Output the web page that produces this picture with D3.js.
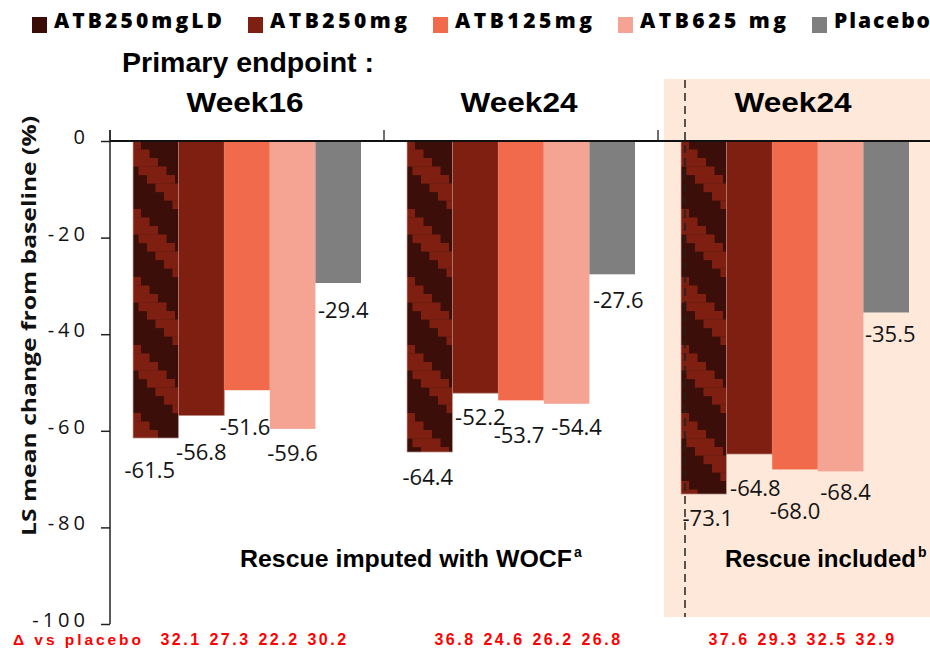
<!DOCTYPE html>
<html>
<head>
<meta charset="utf-8">
<script src="https://cdn.jsdelivr.net/npm/d3@7"></script>
<style>
  html, body { margin: 0; padding: 0; background: #ffffff; }
  svg { display: block; }
</style>
</head>
<body>
<script>
// ---------------- DATA ----------------
const groups = ["Week16", "Week24", "Week24"];
const series = ["ATB250mgLD", "ATB250mg", "ATB125mg", "ATB625 mg", "Placebo"];
const week16Values = [-61.5, -56.8, -51.6, -59.6, -29.4];
const week24Values = [-64.4, -52.2, -53.7, -54.4, -27.6];
const week24RescueValues = [-73.1, -64.8, -68.0, -68.4, -35.5];
const deltaWeek16 = [32.1, 27.3, 22.2, 30.2];
const deltaWeek24 = [36.8, 24.6, 26.2, 26.8];
const deltaWeek24Rescue = [37.6, 29.3, 32.5, 32.9];
const yTicks = [0, -20, -40, -60, -80, -100];
const yTickLabels = ["0", "-20", "-40", "-60", "-80", "-100"];
const deltaRowLabel = "\u0394 vs placebo";
const headerTitle = "Primary endpoint :";
const yAxisTitle = "LS mean change from baseline (%)";
const footnoteLeft = "Rescue imputed with WOCF";
const footnoteLeftSup = "a";
const footnoteRight = "Rescue included";
const footnoteRightSup = "b";

// ---------------- LAYOUT / STYLE ----------------
const W = 930, H = 649;
const colors = ["#3c0e09", "#7e1f11", "#f26a4c", "#f5a393", "#7f7f7f"];
const stripeColor = "#7e1f11";
const legendTextWidths = [168, 137, 137, 146, 96];
// label nudges (dx from bar centre, dy from bar end to label centre)
const labelDx = [[-6, 0, -2, 0, 5], [-2, 5, -2, 10, 6], [4, 6, 0, 5, 4]];
const labelDy = [[32, 37, 37, 24, 27], [25, 24, 35, 23, 26], [24, 34, 42, 21, 22]];

const allValues = [week16Values, week24Values, week24RescueValues];
const allDeltas = [deltaWeek16, deltaWeek24, deltaWeek24Rescue];

const svg = d3.select("body").append("svg").attr("width", W).attr("height", H);

const y = d3.scaleLinear().domain([0, -100]).range([141, 624]);
const xGroup = d3.scaleBand().domain(d3.range(groups.length)).range([110, 932]);
const xBar = d3.scaleBand().domain(series).range([23, 251]);
const xDelta = d3.scalePoint().domain(d3.range(4)).range([70, 217]);

// shaded region (rescue included)
svg.append("rect")
  .attr("x", 664).attr("y", 79).attr("width", W - 664).attr("height", 617 - 79)
  .attr("fill", "#fde8da");

// stripe patterns for ATB250mgLD
const defs = svg.append("defs");
groups.forEach((g, gi) => {
  const bx = xGroup(gi) + xBar(series[0]);
  const p = defs.append("pattern")
    .attr("id", "stripe" + gi)
    .attr("patternUnits", "userSpaceOnUse")
    .attr("x", bx).attr("y", y(0))
    .attr("width", 68).attr("height", 68);
  p.append("rect").attr("width", 68).attr("height", 68).attr("fill", colors[0]);
  for (let k = 0; k < 8; k++) {
    const sx = -20 + k * 8.5;
    [sx - 68, sx, sx + 68].forEach(xx => {
      p.append("rect").attr("x", xx).attr("y", k * 8.5)
        .attr("width", 28).attr("height", 8.6).attr("fill", stripeColor);
    });
  }
});

// bars
groups.forEach((g, gi) => {
  const gx = xGroup(gi);
  const vals = allValues[gi];
  svg.append("g").selectAll("rect")
    .data(vals)
    .join("rect")
    .attr("x", (d, i) => gx + xBar(series[i]))
    .attr("y", y(0))
    .attr("width", xBar.bandwidth())
    .attr("height", d => y(d) - y(0))
    .attr("fill", (d, i) => i === 0 ? `url(#stripe${gi})` : colors[i])
    .attr("stroke", (d, i) => i === 0 ? "#c9a9a4" : (i === 1 ? "#b07a70" : "none"))
    .attr("stroke-width", 0.7);
});

// dashed separator in shaded area
svg.append("line")
  .attr("x1", 685).attr("x2", 685).attr("y1", 80).attr("y2", 617)
  .attr("stroke", "#222").attr("stroke-width", 1.5).attr("stroke-dasharray", "8,5");

// zero line
svg.append("line")
  .attr("x1", 110).attr("x2", W).attr("y1", y(0)).attr("y2", y(0))
  .attr("stroke", "#111").attr("stroke-width", 2);
// group separator ticks
[0, 1, 2].forEach(gi => {
  svg.append("line")
    .attr("x1", xGroup(gi)).attr("x2", xGroup(gi))
    .attr("y1", 130).attr("y2", y(0))
    .attr("stroke", "#222").attr("stroke-width", 1.3);
});

// y axis
const yAxis = d3.axisLeft(y)
  .tickValues(yTicks)
  .tickFormat((d, i) => yTickLabels[i])
  .tickSize(9).tickSizeOuter(0).tickPadding(12);
const ag = svg.append("g").attr("transform", "translate(110,0)").call(yAxis);
ag.select(".domain").remove();
ag.selectAll(".tick line").attr("stroke", "#222").attr("stroke-width", 1.5);
ag.selectAll(".tick text")
  .attr("dy", "0.12em")
  .style("font-family", "'Open Sans', sans-serif")
  .style("font-size", "20px")
  .style("letter-spacing", "4px")
  .attr("fill", "#111");
svg.append("line")
  .attr("x1", 110).attr("x2", 110).attr("y1", 130).attr("y2", y(-100))
  .attr("stroke", "#222").attr("stroke-width", 1.5);

// y axis title
svg.append("text")
  .attr("transform", `translate(36,${(115 + 537) / 2}) rotate(-90)`)
  .attr("text-anchor", "middle")
  .attr("textLength", 420).attr("lengthAdjust", "spacingAndGlyphs")
  .style("font-family", "'Open Sans', sans-serif")
  .style("font-weight", "700").style("font-size", "20px")
  .attr("fill", "#111")
  .text(yAxisTitle);

// value labels
groups.forEach((g, gi) => {
  const gx = xGroup(gi);
  svg.append("g").selectAll("text")
    .data(allValues[gi])
    .join("text")
    .attr("x", (d, i) => gx + xBar(series[i]) + xBar.bandwidth() / 2 + labelDx[gi][i])
    .attr("y", (d, i) => y(d) + labelDy[gi][i])
    .attr("dy", "0.36em")
    .attr("text-anchor", "middle")
    .style("font-family", "'Open Sans', sans-serif")
    .style("font-size", "22px")
    .attr("fill", "#141414")
    .text(d => d.toFixed(1));
});

// group titles
const titleFont = "'Liberation Sans Narrow', 'Liberation Sans', Arial, sans-serif";
svg.append("text")
  .attr("x", 122).attr("y", 72)
  .attr("textLength", 252).attr("lengthAdjust", "spacingAndGlyphs")
  .style("font-family", titleFont).style("font-weight", "700").style("font-size", "28px")
  .attr("fill", "#000")
  .text(headerTitle);
svg.append("g").selectAll("text")
  .data(groups)
  .join("text")
  .attr("x", (d, i) => xGroup(i) + xGroup.bandwidth() / 2 - 2)
  .attr("y", 112)
  .attr("text-anchor", "middle")
  .attr("textLength", 117).attr("lengthAdjust", "spacingAndGlyphs")
  .style("font-family", titleFont).style("font-weight", "700").style("font-size", "28px")
  .attr("fill", "#000")
  .text(d => d);

// footnotes
svg.append("text")
  .attr("x", 240).attr("y", 567)
  .attr("textLength", 332).attr("lengthAdjust", "spacingAndGlyphs")
  .style("font-family", titleFont).style("font-weight", "700").style("font-size", "24px")
  .attr("fill", "#000").text(footnoteLeft);
svg.append("text")
  .attr("x", 574).attr("y", 557)
  .style("font-family", titleFont).style("font-weight", "700").style("font-size", "14px")
  .attr("fill", "#000").text(footnoteLeftSup);
svg.append("text")
  .attr("x", 725).attr("y", 567)
  .attr("textLength", 191).attr("lengthAdjust", "spacingAndGlyphs")
  .style("font-family", titleFont).style("font-weight", "700").style("font-size", "24px")
  .attr("fill", "#000").text(footnoteRight);
svg.append("text")
  .attr("x", 918).attr("y", 557)
  .style("font-family", titleFont).style("font-weight", "700").style("font-size", "14px")
  .attr("fill", "#000").text(footnoteRightSup);

// delta row
const deltaFont = "'Liberation Sans', Arial, sans-serif";
svg.append("text")
  .attr("x", 13).attr("y", 645)
  .attr("textLength", 128).attr("lengthAdjust", "spacing")
  .style("font-family", deltaFont).style("font-weight", "700").style("font-size", "15.5px")
  .attr("fill", "#ff0000").text(deltaRowLabel);
groups.forEach((g, gi) => {
  svg.append("g").selectAll("text")
    .data(allDeltas[gi])
    .join("text")
    .attr("x", (d, i) => xGroup(gi) + xDelta(i) + 1)
    .attr("y", 645)
    .attr("text-anchor", "middle")
    .style("font-family", deltaFont).style("font-weight", "700").style("font-size", "16px")
    .style("letter-spacing", "2.5px")
    .attr("fill", "#ff0000")
    .text(d => d.toFixed(1));
});

// legend
const legendFont = "'Open Sans', sans-serif";
let lx = 32;
series.forEach((s, i) => {
  svg.append("rect").attr("x", lx).attr("y", 17).attr("width", 15).attr("height", 16)
    .attr("fill", i === 0 ? "#3a0c08" : colors[i]);
  svg.append("text")
    .attr("x", lx + 22).attr("y", 28)
    .attr("textLength", legendTextWidths[i]).attr("lengthAdjust", "spacing")
    .style("font-family", legendFont).style("font-weight", "800").style("font-size", "21px")
    .attr("fill", "#000").text(s);
  lx += 22 + legendTextWidths[i] + 26;
});
</script>
</body>
</html>
